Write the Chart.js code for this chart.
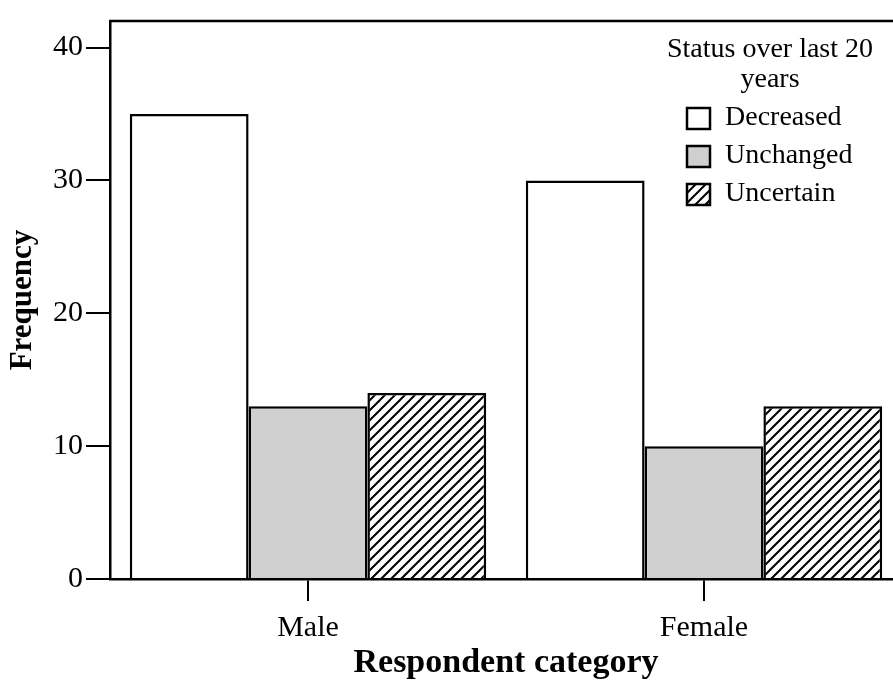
<!DOCTYPE html>
<html>
<head>
<meta charset="utf-8">
<script src="https://cdn.jsdelivr.net/npm/chart.js@4"></script>
<style>
  html, body { margin: 0; padding: 0; background: #fff; overflow: hidden; }
  #wrap { width: 893px; height: 680px; overflow: hidden; }
</style>
</head>
<body>
<div id="wrap"><canvas id="chart" width="905" height="680"></canvas></div>
<script>
// Werte
const kategorien = ["Male", "Female"];
const serienNamen = ["Decreased", "Unchanged", "Uncertain"];
const abgenommen = [35, 30];
const unveraendert = [13, 10];
const unsicher = [14, 13];
const yTicks = [0, 10, 20, 30, 40];
const legendenTitel = ["Status over last 20", "years"];

const schrift = "'Liberation Serif', 'Times New Roman', serif";

// Schraffur fuer "Uncertain"
function schraffur() {
  const s = 10;
  const c = document.createElement("canvas");
  c.width = s; c.height = s;
  const g = c.getContext("2d");
  g.fillStyle = "#fff";
  g.fillRect(0, 0, s, s);
  g.strokeStyle = "#000";
  g.lineWidth = 2;
  g.beginPath();
  g.moveTo(0, s); g.lineTo(s, 0);
  g.moveTo(-1, 1); g.lineTo(1, -1);
  g.moveTo(s - 1, s + 1); g.lineTo(s + 1, s - 1);
  g.stroke();
  return g.createPattern(c, "repeat");
}

const muster = schraffur();

// Rahmen oben + Legende selbst zeichnen
const rahmenUndLegende = {
  id: "rahmenUndLegende",
  afterDraw(chart) {
    const ctx = chart.ctx;
    const a = chart.chartArea;
    ctx.save();
    ctx.strokeStyle = "#000";
    ctx.lineWidth = 2.5;
    ctx.beginPath();
    ctx.moveTo(a.left - 1, a.top);
    ctx.lineTo(a.right + 5, a.top);
    ctx.stroke();

    ctx.fillStyle = "#000";
    ctx.font = "28px " + schrift;
    ctx.textAlign = "center";
    ctx.textBaseline = "middle";
    ctx.fillText(legendenTitel[0], 770, 50);
    ctx.fillText(legendenTitel[1], 770, 80);

    ctx.textAlign = "left";
    chart.data.datasets.forEach((ds, i) => {
      const y = 118 + i * 38;
      ctx.fillStyle = ds.backgroundColor;
      ctx.fillRect(687, y - 10, 23, 21);
      ctx.lineWidth = 2.5;
      ctx.strokeStyle = "#000";
      ctx.strokeRect(687, y - 10, 23, 21);
      ctx.fillStyle = "#000";
      ctx.fillText(ds.label, 725, y);
    });
    ctx.restore();
  }
};

const ctx = document.getElementById("chart").getContext("2d");
new Chart(ctx, {
  type: "bar",
  data: {
    labels: kategorien,
    datasets: [
      { label: serienNamen[0], data: abgenommen, backgroundColor: "#ffffff" },
      { label: serienNamen[1], data: unveraendert, backgroundColor: "#cfcfcf" },
      { label: serienNamen[2], data: unsicher, backgroundColor: muster }
    ].map(d => Object.assign(d, {
      borderColor: "#000",
      borderWidth: 2.5,
      categoryPercentage: 0.9,
      barPercentage: 1.0
    }))
  },
  options: {
    responsive: false,
    animation: false,
    devicePixelRatio: 1,
    layout: { padding: { top: 20, right: 3, left: 0, bottom: 0 } },
    plugins: {
      legend: { display: false },
      tooltip: { enabled: false }
    },
    scales: {
      x: {
        grid: {
          offset: false,
          drawOnChartArea: false,
          drawTicks: true,
          tickLength: 22,
          color: "#000",
          lineWidth: 2
        },
        border: { color: "#000", width: 2.5 },
        ticks: { color: "#000", padding: 9, font: { family: schrift, size: 30 } },
        title: {
          display: true,
          text: "Respondent category",
          color: "#000",
          padding: 0,
          font: { family: schrift, size: 34, weight: "bold", lineHeight: 1 }
        },
        afterFit: s => { s.height = 101; }
      },
      y: {
        min: 0,
        max: 42,
        afterBuildTicks: s => { s.ticks = yTicks.map(v => ({ value: v })); },
        grid: {
          drawOnChartArea: false,
          drawTicks: true,
          tickLength: 24,
          color: "#000",
          lineWidth: 2
        },
        border: { color: "#000", width: 2.5 },
        ticks: { color: "#000", padding: 3, font: { family: schrift, size: 30 } },
        title: {
          display: true,
          text: "Frequency",
          color: "#000",
          padding: 7,
          font: { family: schrift, size: 31, weight: "bold", lineHeight: 1 }
        },
        afterFit: s => { s.width = 110; }
      }
    }
  },
  plugins: [rahmenUndLegende]
});
</script>
</body>
</html>
